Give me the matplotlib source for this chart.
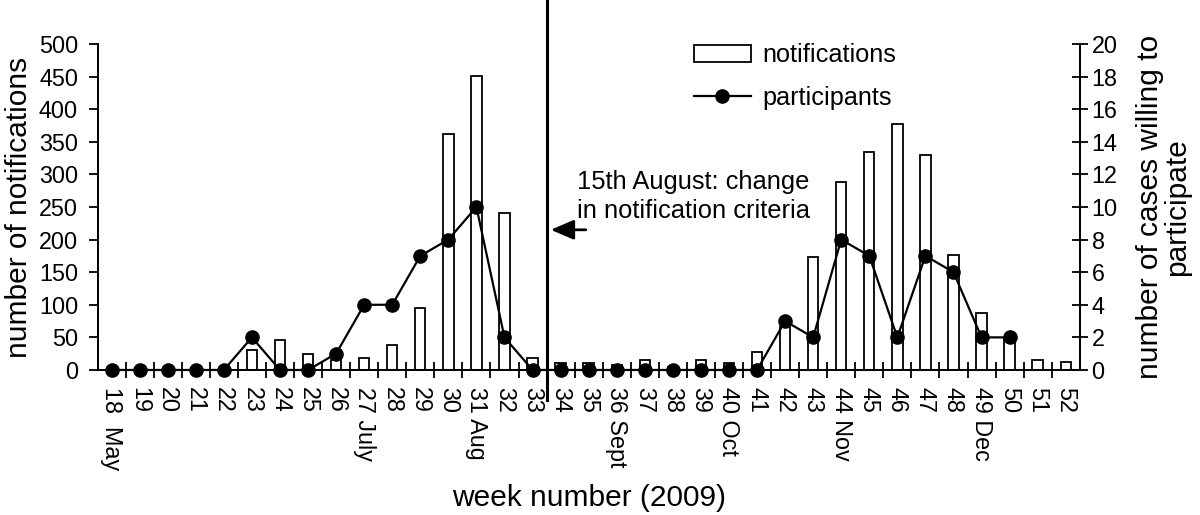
import matplotlib
matplotlib.use("Agg")
import matplotlib.pyplot as plt
import numpy as np
from matplotlib.patches import Patch
from matplotlib.lines import Line2D

plt.rcParams['font.family'] = ['Liberation Sans', 'DejaVu Sans']
plt.rcParams['font.size'] = 16.8

# datos
semanas = list(range(18, 53))
notificaciones = [0, 0, 0, 0, 0, 30, 46, 25, 16, 19, 39, 95, 362, 451, 240, 19,
                  11, 10, 7, 16, 5, 16, 11, 28, 66, 174, 289, 335, 377, 329, 177, 88, 49, 16, 13]
semanas_part = list(range(18, 51))
participantes = [0, 0, 0, 0, 0, 2, 0, 0, 1, 4, 4, 7, 8, 10, 2, 0,
                 0, 0, 0, 0, 0, 0, 0, 0, 3, 2, 8, 7, 2, 7, 6, 2, 2]
etiquetas = {18: "18  May", 27: "27 July", 31: "31 Aug", 36: "36 Sept",
             40: "40 Oct", 44: "44 Nov", 49: "49 Dec"}
semana_cambio = 33.5

fig = plt.figure(figsize=(12, 5.15), dpi=100)
ax = fig.add_axes([0.0813, 0.2816, 0.8185, 0.633])
ax2 = ax.twinx()

ax.bar(semanas, notificaciones, width=0.37, facecolor="white", edgecolor="black", linewidth=1.3)
ax2.plot(semanas_part, participantes, "k-", marker="o", markersize=9.5, linewidth=1.6, clip_on=False)

ax.set_xlim(17.5, 52.5)
ax.set_ylim(0, 500)
ax2.set_ylim(0, 20)
ax.set_yticks(np.arange(0, 501, 50))
ax2.set_yticks(np.arange(0, 21, 2))

# ticks en los limites de semana, etiquetas en el centro
ax.set_xticks([s + 0.5 for s in semanas[:-1]])
ax.set_xticklabels([])
ax.set_xticks(semanas, minor=True)
ax.set_xticklabels([etiquetas.get(s, str(s)) for s in semanas], minor=True, rotation=-90, va="top")
ax.tick_params(axis="x", which="major", direction="inout", length=11, width=1.3)
ax.tick_params(axis="x", which="minor", length=0, pad=12)
ax.tick_params(axis="y", direction="out", length=6.5, width=1.3, pad=7.5)
ax2.tick_params(axis="y", direction="inout", length=11, width=1.3, pad=3)

for a in (ax, ax2):
    a.spines["top"].set_visible(False)
    for s in ("left", "right", "bottom"):
        a.spines[s].set_linewidth(1.3)

ax.set_ylabel("number of notifications", fontsize=21.5)
ax.yaxis.set_label_coords(-0.066, 0.5)
ax2.set_ylabel("number of cases willing to\nparticipate", fontsize=21.5, rotation=90,
               ha="center", va="center", linespacing=0.95)
ax2.yaxis.set_label_coords(1.085, 0.5)
ax.set_xlabel("week number (2009)", fontsize=21.5)
ax.xaxis.set_label_coords(0.5, -0.35)

# linea vertical del cambio de criterio
ax.plot([semana_cambio, semana_cambio], [-46, 570], color="black", linewidth=2.2, clip_on=False)
ax.annotate("", xy=(33.65, 215), xytext=(34.9, 215),
            arrowprops=dict(arrowstyle="-|>,head_length=0.7,head_width=0.3", color="black",
                            lw=2, shrinkA=0, shrinkB=0, mutation_scale=20))
ax.text(34.6, 266, "15th August: change\nin notification criteria", fontsize=18.4,
        ha="left", va="center", linespacing=1.22)

handles = [Patch(facecolor="white", edgecolor="black", linewidth=1.3),
           Line2D([], [], color="black", marker="o", markersize=9.5, linewidth=1.6)]
fig.legend(handles, ["notifications", "participants"], loc="upper left",
           bbox_to_anchor=(694 / 1200, 1 - 43 / 515), frameon=False, fontsize=18.2,
           handlelength=2.25, handleheight=0.65, handletextpad=0.45, labelspacing=0.74,
           borderpad=0, borderaxespad=0)

fig.savefig("out.png", dpi=100)
